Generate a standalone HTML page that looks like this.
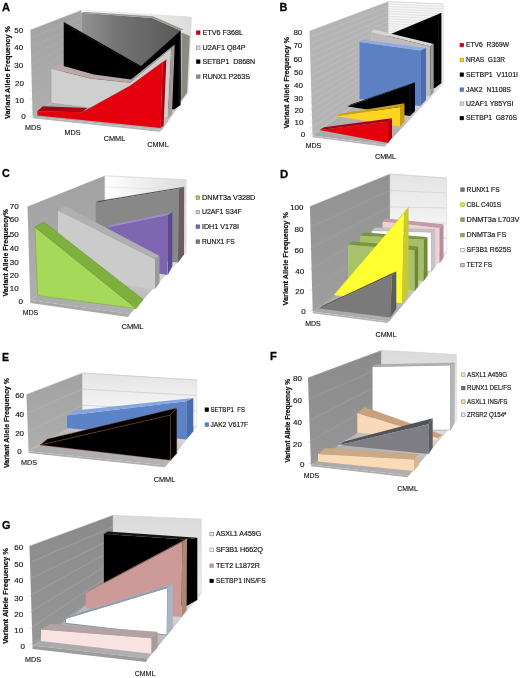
<!DOCTYPE html>
<html><head><meta charset="utf-8"><title>Figure</title>
<style>
html,body{margin:0;padding:0;background:#fff;}
body{width:520px;height:678px;overflow:hidden;font-family:"Liberation Sans",sans-serif;}
svg{display:block;font-family:"Liberation Sans",sans-serif;}
</style></head><body>
<svg width="520" height="678" viewBox="0 0 520 678">
<defs>
<linearGradient id="bw" x1="0" y1="0" x2="1" y2="0"><stop offset="0" stop-color="#ffffff"/><stop offset="1" stop-color="#dcdcdc"/></linearGradient>
<linearGradient id="bw2" x1="0" y1="0" x2="0" y2="1"><stop offset="0" stop-color="#e4e4e4"/><stop offset="1" stop-color="#fdfdfd"/></linearGradient>
<linearGradient id="bw3" x1="0" y1="0" x2="0" y2="1"><stop offset="0" stop-color="#dadada"/><stop offset="1" stop-color="#eeeeee"/></linearGradient>
<linearGradient id="rg" x1="0" y1="0" x2="1" y2="0"><stop offset="0" stop-color="#939393"/><stop offset="0.35" stop-color="#747474"/><stop offset="1" stop-color="#585858"/></linearGradient>
<linearGradient id="lwf" x1="0" y1="0" x2="0" y2="1"><stop offset="0" stop-color="#8b8b8b"/><stop offset="1" stop-color="#969696"/></linearGradient>
<linearGradient id="lw" x1="0" y1="0" x2="0" y2="1"><stop offset="0" stop-color="#a2a2a2"/><stop offset="1" stop-color="#aeaeae"/></linearGradient>
<linearGradient id="fl" x1="0" y1="1" x2="1" y2="0"><stop offset="0" stop-color="#a6a6a6"/><stop offset="0.42" stop-color="#b2b2b2"/><stop offset="0.7" stop-color="#d2d2d2"/><stop offset="1" stop-color="#e4e4e4"/></linearGradient>
<linearGradient id="lwd" x1="0" y1="0" x2="0" y2="1"><stop offset="0" stop-color="#929292"/><stop offset="1" stop-color="#9e9e9e"/></linearGradient>
<filter id="soft" x="-2%" y="-2%" width="104%" height="104%"><feGaussianBlur stdDeviation="0.35"/></filter>
</defs>
<rect width="520" height="678" fill="#fff"/>
<g filter="url(#soft)">
<text x="2.10" y="10.75" font-size="11.8" font-weight="bold" text-anchor="start" fill="#000" textLength="8" lengthAdjust="spacingAndGlyphs" stroke="#000" stroke-width="0.3">A</text>
<text transform="translate(10.16,72.50) rotate(-90)" font-size="7.4" font-weight="bold" text-anchor="middle" fill="#111" stroke="#111" stroke-width="0.22" textLength="93.0" lengthAdjust="spacingAndGlyphs">Variant Allele Frequency %</text>
<text x="23.20" y="33.38" font-size="8.0" font-weight="normal" text-anchor="end" fill="#111" stroke="#222" stroke-width="0.15">50</text>
<text x="23.20" y="50.38" font-size="8.0" font-weight="normal" text-anchor="end" fill="#111" stroke="#222" stroke-width="0.15">40</text>
<text x="23.20" y="68.38" font-size="8.0" font-weight="normal" text-anchor="end" fill="#111" stroke="#222" stroke-width="0.15">30</text>
<text x="24.00" y="85.88" font-size="8.0" font-weight="normal" text-anchor="end" fill="#111" stroke="#222" stroke-width="0.15">20</text>
<text x="24.00" y="102.88" font-size="8.0" font-weight="normal" text-anchor="end" fill="#111" stroke="#222" stroke-width="0.15">10</text>
<text x="25.80" y="119.38" font-size="8.0" font-weight="normal" text-anchor="end" fill="#111" stroke="#222" stroke-width="0.15">0</text>
<polygon points="30.40,30.00 81.50,10.20 82.50,79.00 32.60,116.50" fill="url(#lw)"/>
<line x1="30.40" y1="30.00" x2="81.50" y2="10.20" stroke="#b4b4b4" stroke-width="0.45"/>
<line x1="30.40" y1="38.65" x2="81.50" y2="17.08" stroke="#b4b4b4" stroke-width="0.45"/>
<line x1="30.40" y1="47.30" x2="81.50" y2="23.96" stroke="#b4b4b4" stroke-width="0.45"/>
<line x1="30.40" y1="55.95" x2="81.50" y2="30.84" stroke="#b4b4b4" stroke-width="0.45"/>
<line x1="30.40" y1="64.60" x2="81.50" y2="37.72" stroke="#b4b4b4" stroke-width="0.45"/>
<line x1="30.40" y1="73.25" x2="81.50" y2="44.60" stroke="#b4b4b4" stroke-width="0.45"/>
<line x1="30.40" y1="81.90" x2="81.50" y2="51.48" stroke="#b4b4b4" stroke-width="0.45"/>
<line x1="30.40" y1="90.55" x2="81.50" y2="58.36" stroke="#b4b4b4" stroke-width="0.45"/>
<line x1="30.40" y1="99.20" x2="81.50" y2="65.24" stroke="#b4b4b4" stroke-width="0.45"/>
<line x1="30.40" y1="107.85" x2="81.50" y2="72.12" stroke="#b4b4b4" stroke-width="0.45"/>
<line x1="30.40" y1="116.50" x2="81.50" y2="79.00" stroke="#b4b4b4" stroke-width="0.45"/>
<polygon points="81.50,10.20 191.50,17.00 188.00,93.00 82.50,79.00" fill="url(#bw)" stroke="#cfcfcf" stroke-width="0.4" stroke-linejoin="round"/>
<polygon points="32.60,116.50 82.50,79.00 188.00,93.00 162.00,130.00" fill="url(#fl)"/>
<polygon points="32.60,116.50 162.00,130.00 159.00,131.80 32.60,118.30" fill="#b4b4b4"/>
<polygon points="81.30,12.80 152.00,18.00 180.50,30.50 181.50,100.00 81.30,80.00" fill="url(#rg)"/>
<polygon points="81.30,12.80 84.50,11.80 153.00,16.30 183.50,29.50 180.50,30.50 152.00,18.00" fill="#9a9c92"/>
<polygon points="181.50,32.50 189.80,36.00 187.00,93.00 181.50,100.00" fill="#8a8c82"/>
<polygon points="63.75,22.00 141.00,66.00 178.00,33.00 180.60,30.80 180.60,105.00 174.00,109.50 63.75,100.00" fill="#000"/>
<line x1="64.50" y1="23.50" x2="101.00" y2="45.00" stroke="#2c2c34" stroke-width="0.5"/>
<line x1="101.00" y1="45.00" x2="139.00" y2="66.00" stroke="#24242c" stroke-width="0.5"/>
<line x1="179.20" y1="34.00" x2="179.00" y2="104.00" stroke="#1c2440" stroke-width="0.5"/>
<polygon points="51.00,68.50 91.00,78.50 130.00,82.50 171.40,48.00 168.00,118.00 51.00,103.00" fill="#cfcfcf" stroke="#a58c8c" stroke-width="0.45" stroke-linejoin="round"/>
<polygon points="51.00,68.50 58.00,64.50 94.00,74.50 131.00,79.50 174.70,44.50 171.40,48.00 130.00,82.50 91.00,78.50" fill="#b9a9a9"/>
<polygon points="171.40,48.00 174.70,44.50 172.00,114.00 168.00,118.00" fill="#a99a9a"/>
<polygon points="37.20,111.30 82.50,112.30 130.00,86.00 162.60,62.20 160.60,128.00 37.50,115.50" fill="#e4000f"/>
<polygon points="37.20,111.30 43.00,106.30 87.00,108.00 82.50,112.30" fill="#a80012"/>
<polygon points="162.60,62.20 166.40,59.40 163.60,125.50 160.60,128.00" fill="#b2000f"/>
<line x1="82.50" y1="112.30" x2="130.00" y2="86.00" stroke="#b8000f" stroke-width="0.5"/>
<line x1="130.00" y1="86.00" x2="162.60" y2="62.20" stroke="#b8000f" stroke-width="0.5"/>
<text x="33.00" y="129.74" font-size="7.6" font-weight="normal" text-anchor="middle" fill="#111" textLength="16" lengthAdjust="spacingAndGlyphs" stroke="#222" stroke-width="0.15">MDS</text>
<text x="72.50" y="135.24" font-size="7.6" font-weight="normal" text-anchor="middle" fill="#111" textLength="16" lengthAdjust="spacingAndGlyphs" stroke="#222" stroke-width="0.15">MDS</text>
<text x="114.50" y="140.74" font-size="7.6" font-weight="normal" text-anchor="middle" fill="#111" textLength="21.5" lengthAdjust="spacingAndGlyphs" stroke="#222" stroke-width="0.15">CMML</text>
<text x="158.00" y="147.24" font-size="7.6" font-weight="normal" text-anchor="middle" fill="#111" textLength="21.5" lengthAdjust="spacingAndGlyphs" stroke="#222" stroke-width="0.15">CMML</text>
<rect x="196.60" y="30.90" width="3.4000000000000004" height="3.4000000000000004" fill="#d4001a" stroke="#a00018" stroke-width="0.7"/>
<text x="202.50" y="34.75" font-size="6.8" font-weight="normal" text-anchor="start" fill="#111" textLength="40.5" lengthAdjust="spacingAndGlyphs" stroke="#222" stroke-width="0.18">ETV6 F368L</text>
<rect x="196.60" y="45.90" width="3.4000000000000004" height="3.4000000000000004" fill="#e2e2e2" stroke="#b08a8a" stroke-width="0.7"/>
<text x="202.50" y="49.75" font-size="6.8" font-weight="normal" text-anchor="start" fill="#111" textLength="43" lengthAdjust="spacingAndGlyphs" stroke="#222" stroke-width="0.18">U2AF1 Q84P</text>
<rect x="196.60" y="59.90" width="3.4000000000000004" height="3.4000000000000004" fill="#000" stroke="#000" stroke-width="0.7"/>
<text x="202.50" y="63.75" font-size="6.8" font-weight="normal" text-anchor="start" fill="#111" textLength="52.5" lengthAdjust="spacingAndGlyphs" stroke="#222" stroke-width="0.18">SETBP1 &#160;D868N</text>
<rect x="196.60" y="74.90" width="3.4000000000000004" height="3.4000000000000004" fill="#8a8c80" stroke="#7a7c70" stroke-width="0.7"/>
<text x="202.50" y="78.75" font-size="6.8" font-weight="normal" text-anchor="start" fill="#111" textLength="47.5" lengthAdjust="spacingAndGlyphs" stroke="#222" stroke-width="0.18">RUNX1 P263S</text>
<text x="279.60" y="10.75" font-size="11.8" font-weight="bold" text-anchor="start" fill="#000" textLength="7.8" lengthAdjust="spacingAndGlyphs" stroke="#000" stroke-width="0.3">B</text>
<text transform="translate(288.66,82.75) rotate(-90)" font-size="7.4" font-weight="bold" text-anchor="middle" fill="#111" stroke="#111" stroke-width="0.22" textLength="91.5" lengthAdjust="spacingAndGlyphs">Variant Allele Frequency %</text>
<text x="302.30" y="35.28" font-size="8.0" font-weight="normal" text-anchor="end" fill="#111" stroke="#222" stroke-width="0.15">80</text>
<text x="302.30" y="48.38" font-size="8.0" font-weight="normal" text-anchor="end" fill="#111" stroke="#222" stroke-width="0.15">70</text>
<text x="302.30" y="61.88" font-size="8.0" font-weight="normal" text-anchor="end" fill="#111" stroke="#222" stroke-width="0.15">60</text>
<text x="302.90" y="75.38" font-size="8.0" font-weight="normal" text-anchor="end" fill="#111" stroke="#222" stroke-width="0.15">50</text>
<text x="302.90" y="87.88" font-size="8.0" font-weight="normal" text-anchor="end" fill="#111" stroke="#222" stroke-width="0.15">40</text>
<text x="302.90" y="100.88" font-size="8.0" font-weight="normal" text-anchor="end" fill="#111" stroke="#222" stroke-width="0.15">30</text>
<text x="303.50" y="112.88" font-size="8.0" font-weight="normal" text-anchor="end" fill="#111" stroke="#222" stroke-width="0.15">20</text>
<text x="303.50" y="125.18" font-size="8.0" font-weight="normal" text-anchor="end" fill="#111" stroke="#222" stroke-width="0.15">10</text>
<text x="305.20" y="137.38" font-size="8.0" font-weight="normal" text-anchor="end" fill="#111" stroke="#222" stroke-width="0.15">0</text>
<polygon points="309.50,31.00 388.50,1.50 388.50,80.50 312.50,135.50" fill="#b4b4b4"/>
<line x1="309.50" y1="31.00" x2="388.50" y2="1.50" stroke="#c6c6c6" stroke-width="0.45"/>
<line x1="309.50" y1="37.53" x2="388.50" y2="6.44" stroke="#c6c6c6" stroke-width="0.45"/>
<line x1="309.50" y1="44.06" x2="388.50" y2="11.38" stroke="#c6c6c6" stroke-width="0.45"/>
<line x1="309.50" y1="50.59" x2="388.50" y2="16.31" stroke="#c6c6c6" stroke-width="0.45"/>
<line x1="309.50" y1="57.12" x2="388.50" y2="21.25" stroke="#c6c6c6" stroke-width="0.45"/>
<line x1="309.50" y1="63.66" x2="388.50" y2="26.19" stroke="#c6c6c6" stroke-width="0.45"/>
<line x1="309.50" y1="70.19" x2="388.50" y2="31.12" stroke="#c6c6c6" stroke-width="0.45"/>
<line x1="309.50" y1="76.72" x2="388.50" y2="36.06" stroke="#c6c6c6" stroke-width="0.45"/>
<line x1="309.50" y1="83.25" x2="388.50" y2="41.00" stroke="#c6c6c6" stroke-width="0.45"/>
<line x1="309.50" y1="89.78" x2="388.50" y2="45.94" stroke="#c6c6c6" stroke-width="0.45"/>
<line x1="309.50" y1="96.31" x2="388.50" y2="50.88" stroke="#c6c6c6" stroke-width="0.45"/>
<line x1="309.50" y1="102.84" x2="388.50" y2="55.81" stroke="#c6c6c6" stroke-width="0.45"/>
<line x1="309.50" y1="109.38" x2="388.50" y2="60.75" stroke="#c6c6c6" stroke-width="0.45"/>
<line x1="309.50" y1="115.91" x2="388.50" y2="65.69" stroke="#c6c6c6" stroke-width="0.45"/>
<line x1="309.50" y1="122.44" x2="388.50" y2="70.62" stroke="#c6c6c6" stroke-width="0.45"/>
<line x1="309.50" y1="128.97" x2="388.50" y2="75.56" stroke="#c6c6c6" stroke-width="0.45"/>
<line x1="309.50" y1="135.50" x2="388.50" y2="80.50" stroke="#c6c6c6" stroke-width="0.45"/>
<polygon points="388.50,1.50 443.30,4.00 443.30,84.00 388.50,80.50" fill="#f4f4f4" stroke="#d0d0d0" stroke-width="0.4" stroke-linejoin="round"/>
<line x1="388.50" y1="1.50" x2="443.30" y2="4.00" stroke="#cdcdcd" stroke-width="0.45"/>
<line x1="388.50" y1="3.97" x2="443.30" y2="6.50" stroke="#cdcdcd" stroke-width="0.45"/>
<line x1="388.50" y1="6.44" x2="443.30" y2="9.00" stroke="#cdcdcd" stroke-width="0.45"/>
<line x1="388.50" y1="8.91" x2="443.30" y2="11.50" stroke="#cdcdcd" stroke-width="0.45"/>
<line x1="388.50" y1="11.38" x2="443.30" y2="14.00" stroke="#cdcdcd" stroke-width="0.45"/>
<line x1="388.50" y1="13.84" x2="443.30" y2="16.50" stroke="#cdcdcd" stroke-width="0.45"/>
<line x1="388.50" y1="16.31" x2="443.30" y2="19.00" stroke="#cdcdcd" stroke-width="0.45"/>
<line x1="388.50" y1="18.78" x2="443.30" y2="21.50" stroke="#cdcdcd" stroke-width="0.45"/>
<line x1="388.50" y1="21.25" x2="443.30" y2="24.00" stroke="#cdcdcd" stroke-width="0.45"/>
<line x1="388.50" y1="23.72" x2="443.30" y2="26.50" stroke="#cdcdcd" stroke-width="0.45"/>
<line x1="388.50" y1="26.19" x2="443.30" y2="29.00" stroke="#cdcdcd" stroke-width="0.45"/>
<line x1="388.50" y1="28.66" x2="443.30" y2="31.50" stroke="#cdcdcd" stroke-width="0.45"/>
<line x1="388.50" y1="31.12" x2="443.30" y2="34.00" stroke="#cdcdcd" stroke-width="0.45"/>
<line x1="388.50" y1="33.59" x2="443.30" y2="36.50" stroke="#cdcdcd" stroke-width="0.45"/>
<line x1="388.50" y1="36.06" x2="443.30" y2="39.00" stroke="#cdcdcd" stroke-width="0.45"/>
<line x1="388.50" y1="38.53" x2="443.30" y2="41.50" stroke="#cdcdcd" stroke-width="0.45"/>
<line x1="388.50" y1="41.00" x2="443.30" y2="44.00" stroke="#cdcdcd" stroke-width="0.45"/>
<line x1="388.50" y1="43.47" x2="443.30" y2="46.50" stroke="#cdcdcd" stroke-width="0.45"/>
<line x1="388.50" y1="45.94" x2="443.30" y2="49.00" stroke="#cdcdcd" stroke-width="0.45"/>
<line x1="388.50" y1="48.41" x2="443.30" y2="51.50" stroke="#cdcdcd" stroke-width="0.45"/>
<line x1="388.50" y1="50.88" x2="443.30" y2="54.00" stroke="#cdcdcd" stroke-width="0.45"/>
<line x1="388.50" y1="53.34" x2="443.30" y2="56.50" stroke="#cdcdcd" stroke-width="0.45"/>
<line x1="388.50" y1="55.81" x2="443.30" y2="59.00" stroke="#cdcdcd" stroke-width="0.45"/>
<line x1="388.50" y1="58.28" x2="443.30" y2="61.50" stroke="#cdcdcd" stroke-width="0.45"/>
<line x1="388.50" y1="60.75" x2="443.30" y2="64.00" stroke="#cdcdcd" stroke-width="0.45"/>
<line x1="388.50" y1="63.22" x2="443.30" y2="66.50" stroke="#cdcdcd" stroke-width="0.45"/>
<line x1="388.50" y1="65.69" x2="443.30" y2="69.00" stroke="#cdcdcd" stroke-width="0.45"/>
<line x1="388.50" y1="68.16" x2="443.30" y2="71.50" stroke="#cdcdcd" stroke-width="0.45"/>
<line x1="388.50" y1="70.62" x2="443.30" y2="74.00" stroke="#cdcdcd" stroke-width="0.45"/>
<line x1="388.50" y1="73.09" x2="443.30" y2="76.50" stroke="#cdcdcd" stroke-width="0.45"/>
<line x1="388.50" y1="75.56" x2="443.30" y2="79.00" stroke="#cdcdcd" stroke-width="0.45"/>
<line x1="388.50" y1="78.03" x2="443.30" y2="81.50" stroke="#cdcdcd" stroke-width="0.45"/>
<line x1="388.50" y1="80.50" x2="443.30" y2="84.00" stroke="#cdcdcd" stroke-width="0.45"/>
<polygon points="312.50,135.50 388.50,80.50 443.30,84.00 386.00,145.00" fill="url(#fl)"/>
<polygon points="312.50,135.50 386.00,145.00 384.50,146.80 312.50,137.30" fill="#b8b8b8"/>
<polygon points="380.00,38.50 438.00,14.30 441.40,12.80 441.40,83.00 435.00,88.00 380.00,100.00" fill="#000"/>
<line x1="438.60" y1="16.00" x2="438.40" y2="85.00" stroke="#1e1e26" stroke-width="0.5"/>
<polygon points="371.00,32.00 430.40,46.30 430.40,96.00 371.00,100.00" fill="#bcbcbc"/>
<polygon points="371.00,32.00 374.00,29.60 433.70,44.00 430.40,46.30" fill="#d6d6d6"/>
<polygon points="430.40,46.30 433.70,44.00 433.70,92.00 430.40,96.00" fill="#9a9a9a"/>
<polygon points="359.50,42.00 420.40,50.50 420.40,106.00 359.50,99.00" fill="#5b80c2"/>
<polygon points="359.50,42.00 363.00,39.80 426.00,48.00 420.40,50.50" fill="#8fabdf"/>
<polygon points="420.40,50.50 426.00,48.00 426.00,100.00 420.40,106.00" fill="#4a6db0"/>
<polygon points="347.50,106.50 410.00,84.50 410.00,116.00" fill="#000"/>
<polygon points="347.50,106.50 351.00,104.30 415.00,82.30 410.00,84.50" fill="#1c1c22"/>
<polygon points="410.00,84.50 415.00,82.30 415.00,111.00 410.00,116.00" fill="#06060c"/>
<line x1="410.00" y1="85.00" x2="410.00" y2="115.50" stroke="#26263a" stroke-width="0.4"/>
<polygon points="336.00,116.30 400.00,107.00 400.00,126.50" fill="#ffd422"/>
<polygon points="336.00,116.30 340.00,113.80 404.50,103.30 400.00,107.00" fill="#c8a218"/>
<polygon points="400.00,107.00 404.50,103.30 404.50,121.50 400.00,126.50" fill="#c89c10"/>
<polygon points="319.50,130.00 388.00,121.70 388.00,143.00" fill="#e4000f"/>
<polygon points="319.50,130.00 324.00,127.30 392.00,118.20 388.00,121.70" fill="#a80012"/>
<polygon points="388.00,121.70 392.00,118.20 392.00,137.50 388.00,143.00" fill="#b0000f"/>
<text x="313.50" y="148.24" font-size="7.6" font-weight="normal" text-anchor="middle" fill="#111" textLength="15.5" lengthAdjust="spacingAndGlyphs" stroke="#222" stroke-width="0.15">MDS</text>
<text x="385.50" y="158.74" font-size="7.6" font-weight="normal" text-anchor="middle" fill="#111" textLength="21" lengthAdjust="spacingAndGlyphs" stroke="#222" stroke-width="0.15">CMML</text>
<rect x="460.10" y="43.40" width="3.4000000000000004" height="3.4000000000000004" fill="#d4001a" stroke="#a00018" stroke-width="0.7"/>
<text x="466.00" y="47.25" font-size="6.8" font-weight="normal" text-anchor="start" fill="#111" textLength="43" lengthAdjust="spacingAndGlyphs" stroke="#222" stroke-width="0.18">ETV6 &#160;R369W</text>
<rect x="460.10" y="58.40" width="3.4000000000000004" height="3.4000000000000004" fill="#ffd422" stroke="#b89010" stroke-width="0.7"/>
<text x="466.00" y="62.25" font-size="6.8" font-weight="normal" text-anchor="start" fill="#111" textLength="39" lengthAdjust="spacingAndGlyphs" stroke="#222" stroke-width="0.18">NRAS &#160;G13R</text>
<rect x="460.10" y="72.90" width="3.4000000000000004" height="3.4000000000000004" fill="#000" stroke="#000" stroke-width="0.7"/>
<text x="466.00" y="76.75" font-size="6.8" font-weight="normal" text-anchor="start" fill="#111" textLength="52" lengthAdjust="spacingAndGlyphs" stroke="#222" stroke-width="0.18">SETBP1 &#160;V1101I</text>
<rect x="460.10" y="87.90" width="3.4000000000000004" height="3.4000000000000004" fill="#5b80c2" stroke="#46659f" stroke-width="0.7"/>
<text x="466.00" y="91.75" font-size="6.8" font-weight="normal" text-anchor="start" fill="#111" textLength="45" lengthAdjust="spacingAndGlyphs" stroke="#222" stroke-width="0.18">JAK2 &#160;N1108S</text>
<rect x="460.10" y="101.90" width="3.4000000000000004" height="3.4000000000000004" fill="#d8d8d8" stroke="#a89898" stroke-width="0.7"/>
<text x="466.00" y="105.75" font-size="6.8" font-weight="normal" text-anchor="start" fill="#111" textLength="47.5" lengthAdjust="spacingAndGlyphs" stroke="#222" stroke-width="0.18">U2AF1 Y85YSI</text>
<rect x="460.10" y="116.40" width="3.4000000000000004" height="3.4000000000000004" fill="#000" stroke="#000" stroke-width="0.7"/>
<text x="466.00" y="120.25" font-size="6.8" font-weight="normal" text-anchor="start" fill="#111" textLength="51" lengthAdjust="spacingAndGlyphs" stroke="#222" stroke-width="0.18">SETBP1 &#160;G870S</text>
<text x="2.10" y="177.25" font-size="11.8" font-weight="bold" text-anchor="start" fill="#000" textLength="7.8" lengthAdjust="spacingAndGlyphs" stroke="#000" stroke-width="0.3">C</text>
<text transform="translate(7.66,252.75) rotate(-90)" font-size="7.4" font-weight="bold" text-anchor="middle" fill="#111" stroke="#111" stroke-width="0.22" textLength="87.5" lengthAdjust="spacingAndGlyphs">Variant Allele Frequency%</text>
<text x="18.70" y="209.28" font-size="8.0" font-weight="normal" text-anchor="end" fill="#111" stroke="#222" stroke-width="0.15">70</text>
<text x="18.70" y="222.38" font-size="8.0" font-weight="normal" text-anchor="end" fill="#111" stroke="#222" stroke-width="0.15">60</text>
<text x="18.70" y="236.58" font-size="8.0" font-weight="normal" text-anchor="end" fill="#111" stroke="#222" stroke-width="0.15">50</text>
<text x="18.70" y="250.88" font-size="8.0" font-weight="normal" text-anchor="end" fill="#111" stroke="#222" stroke-width="0.15">40</text>
<text x="18.70" y="264.68" font-size="8.0" font-weight="normal" text-anchor="end" fill="#111" stroke="#222" stroke-width="0.15">30</text>
<text x="18.70" y="278.18" font-size="8.0" font-weight="normal" text-anchor="end" fill="#111" stroke="#222" stroke-width="0.15">20</text>
<text x="18.70" y="291.08" font-size="8.0" font-weight="normal" text-anchor="end" fill="#111" stroke="#222" stroke-width="0.15">10</text>
<text x="23.00" y="304.48" font-size="8.0" font-weight="normal" text-anchor="end" fill="#111" stroke="#222" stroke-width="0.15">0</text>
<polygon points="27.50,206.50 104.90,175.80 104.90,254.00 30.20,300.00" fill="url(#lw)"/>
<polygon points="104.90,175.80 186.20,179.70 186.20,253.00 104.90,254.00" fill="url(#bw)" stroke="#cfcfcf" stroke-width="0.4" stroke-linejoin="round"/>
<line x1="104.90" y1="175.80" x2="186.20" y2="179.70" stroke="#d4d4d4" stroke-width="0.4"/>
<line x1="104.90" y1="186.97" x2="186.20" y2="190.17" stroke="#d4d4d4" stroke-width="0.4"/>
<line x1="104.90" y1="198.14" x2="186.20" y2="200.64" stroke="#d4d4d4" stroke-width="0.4"/>
<line x1="104.90" y1="209.31" x2="186.20" y2="211.11" stroke="#d4d4d4" stroke-width="0.4"/>
<line x1="104.90" y1="220.49" x2="186.20" y2="221.59" stroke="#d4d4d4" stroke-width="0.4"/>
<line x1="104.90" y1="231.66" x2="186.20" y2="232.06" stroke="#d4d4d4" stroke-width="0.4"/>
<line x1="104.90" y1="242.83" x2="186.20" y2="242.53" stroke="#d4d4d4" stroke-width="0.4"/>
<line x1="104.90" y1="254.00" x2="186.20" y2="253.00" stroke="#d4d4d4" stroke-width="0.4"/>
<polygon points="30.20,300.00 104.90,254.00 186.20,253.00 130.00,314.00" fill="url(#fl)"/>
<polygon points="30.20,300.00 130.00,314.00 128.00,317.00 30.20,303.00" fill="#a8a8a8"/>
<polygon points="95.70,202.80 178.50,188.70 178.00,262.60 95.70,256.00" fill="#888888"/>
<polygon points="95.70,202.80 98.00,201.00 184.20,186.80 178.50,188.70" fill="#5f5356"/>
<polygon points="178.50,188.70 184.20,186.80 184.00,254.50 178.00,262.60" fill="#6a5c5f"/>
<polygon points="107.50,227.50 167.50,215.00 167.50,275.00 107.50,265.00" fill="#7f66b3"/>
<polygon points="107.50,227.50 111.00,225.00 172.30,212.30 167.80,215.00" fill="#9d8bcb"/>
<polygon points="167.80,215.00 172.30,212.30 172.30,266.00 167.80,275.00" fill="#5b4691"/>
<polygon points="58.00,210.50 155.00,259.00 155.00,289.00 58.00,275.00" fill="#cbcbcb"/>
<polygon points="58.00,210.50 65.00,206.00 159.50,256.00 155.00,259.00" fill="#b0b0b0"/>
<polygon points="155.00,259.00 159.50,256.00 159.50,283.00 155.00,289.00" fill="#9a9a9a"/>
<polygon points="35.00,227.00 136.20,308.50 37.70,295.50" fill="#a6d95a" stroke="#6a9a30" stroke-width="0.4" stroke-linejoin="round"/>
<polygon points="35.00,227.00 44.00,222.00 143.20,299.60 136.20,308.50" fill="#7fb03c" stroke="#5f8a28" stroke-width="0.4" stroke-linejoin="round"/>
<text x="30.50" y="314.74" font-size="7.6" font-weight="normal" text-anchor="middle" fill="#111" textLength="15.5" lengthAdjust="spacingAndGlyphs" stroke="#222" stroke-width="0.15">MDS</text>
<text x="132.50" y="328.74" font-size="7.6" font-weight="normal" text-anchor="middle" fill="#111" textLength="22" lengthAdjust="spacingAndGlyphs" stroke="#222" stroke-width="0.15">CMML</text>
<rect x="196.10" y="195.90" width="3.4000000000000004" height="3.4000000000000004" fill="#a6d95a" stroke="#6a9a30" stroke-width="0.7"/>
<text x="201.90" y="199.75" font-size="6.8" font-weight="normal" text-anchor="start" fill="#111" textLength="53.4" lengthAdjust="spacingAndGlyphs" stroke="#222" stroke-width="0.18">DNMT3a V328D</text>
<rect x="196.10" y="210.40" width="3.4000000000000004" height="3.4000000000000004" fill="#cbcbcb" stroke="#999" stroke-width="0.7"/>
<text x="201.90" y="214.25" font-size="6.8" font-weight="normal" text-anchor="start" fill="#111" textLength="40" lengthAdjust="spacingAndGlyphs" stroke="#222" stroke-width="0.18">U2AF1 S34F</text>
<rect x="196.10" y="224.90" width="3.4000000000000004" height="3.4000000000000004" fill="#7f66b3" stroke="#5b4691" stroke-width="0.7"/>
<text x="201.90" y="228.75" font-size="6.8" font-weight="normal" text-anchor="start" fill="#111" textLength="37" lengthAdjust="spacingAndGlyphs" stroke="#222" stroke-width="0.18">IDH1 V178I</text>
<rect x="196.10" y="239.90" width="3.4000000000000004" height="3.4000000000000004" fill="#8a7a7a" stroke="#5e5052" stroke-width="0.7"/>
<text x="201.90" y="243.75" font-size="6.8" font-weight="normal" text-anchor="start" fill="#111" textLength="32.7" lengthAdjust="spacingAndGlyphs" stroke="#222" stroke-width="0.18">RUNX1 FS</text>
<text x="280.10" y="177.75" font-size="11.8" font-weight="bold" text-anchor="start" fill="#000" textLength="8.2" lengthAdjust="spacingAndGlyphs" stroke="#000" stroke-width="0.3">D</text>
<text transform="translate(288.26,258.75) rotate(-90)" font-size="7.4" font-weight="bold" text-anchor="middle" fill="#111" stroke="#111" stroke-width="0.22" textLength="93.5" lengthAdjust="spacingAndGlyphs">Variant Allele Frequency %</text>
<text x="303.50" y="209.88" font-size="8.0" font-weight="normal" text-anchor="end" fill="#111" stroke="#222" stroke-width="0.15">100</text>
<text x="303.50" y="231.88" font-size="8.0" font-weight="normal" text-anchor="end" fill="#111" stroke="#222" stroke-width="0.15">80</text>
<text x="303.50" y="252.88" font-size="8.0" font-weight="normal" text-anchor="end" fill="#111" stroke="#222" stroke-width="0.15">60</text>
<text x="304.20" y="273.58" font-size="8.0" font-weight="normal" text-anchor="end" fill="#111" stroke="#222" stroke-width="0.15">40</text>
<text x="304.20" y="294.48" font-size="8.0" font-weight="normal" text-anchor="end" fill="#111" stroke="#222" stroke-width="0.15">20</text>
<text x="305.60" y="314.38" font-size="8.0" font-weight="normal" text-anchor="end" fill="#111" stroke="#222" stroke-width="0.15">0</text>
<polygon points="309.90,206.50 390.00,174.00 390.00,272.00 312.70,311.50" fill="url(#lwd)"/>
<line x1="309.90" y1="206.50" x2="390.00" y2="174.00" stroke="#a8a8a8" stroke-width="0.45"/>
<line x1="309.90" y1="227.50" x2="390.00" y2="190.40" stroke="#a8a8a8" stroke-width="0.45"/>
<line x1="309.90" y1="248.50" x2="390.00" y2="206.80" stroke="#a8a8a8" stroke-width="0.45"/>
<line x1="309.90" y1="269.50" x2="390.00" y2="223.20" stroke="#a8a8a8" stroke-width="0.45"/>
<line x1="309.90" y1="290.50" x2="390.00" y2="239.60" stroke="#a8a8a8" stroke-width="0.45"/>
<line x1="309.90" y1="311.50" x2="390.00" y2="256.00" stroke="#a8a8a8" stroke-width="0.45"/>
<polygon points="390.00,174.00 446.70,178.00 446.70,253.00 390.00,256.00" fill="url(#bw2)" stroke="#d0d0d0" stroke-width="0.4" stroke-linejoin="round"/>
<line x1="390.00" y1="174.00" x2="446.70" y2="178.00" stroke="#c4c4c4" stroke-width="0.5"/>
<line x1="390.00" y1="190.40" x2="446.70" y2="193.00" stroke="#c4c4c4" stroke-width="0.5"/>
<line x1="390.00" y1="206.80" x2="446.70" y2="208.00" stroke="#c4c4c4" stroke-width="0.5"/>
<line x1="390.00" y1="223.20" x2="446.70" y2="223.00" stroke="#c4c4c4" stroke-width="0.5"/>
<line x1="390.00" y1="239.60" x2="446.70" y2="238.00" stroke="#c4c4c4" stroke-width="0.5"/>
<line x1="390.00" y1="256.00" x2="446.70" y2="253.00" stroke="#c4c4c4" stroke-width="0.5"/>
<polygon points="312.70,311.50 390.00,256.00 446.70,253.00 389.00,321.50" fill="url(#fl)"/>
<polygon points="312.70,311.50 389.00,321.50 387.50,323.00 312.70,313.20" fill="#b4b4b4"/>
<polygon points="382.50,221.50 439.50,228.00 439.50,263.40 382.50,258.00" fill="#ecd2d6"/>
<polygon points="382.50,221.50 386.00,218.50 443.50,224.30 439.50,228.00" fill="#c49aa4"/>
<polygon points="439.50,228.00 443.50,224.30 443.50,258.00 439.50,263.40" fill="#b88c98"/>
<polygon points="371.75,230.50 431.50,232.20 431.50,271.40 371.75,264.00" fill="#ffffff" stroke="#a8a8a8" stroke-width="0.4" stroke-linejoin="round"/>
<polygon points="371.75,230.50 375.50,227.50 434.80,229.60 431.50,232.20" fill="#c4c4c4" stroke="#a8a8a8" stroke-width="0.3" stroke-linejoin="round"/>
<polygon points="431.50,232.20 434.80,229.60 434.80,267.40 431.50,271.40" fill="#c2c6ca" stroke="#a8a8a8" stroke-width="0.3" stroke-linejoin="round"/>
<polygon points="360.00,235.50 423.50,239.80 423.50,281.40 360.00,271.00" fill="#a6be68"/>
<polygon points="360.00,235.50 364.00,232.50 427.50,237.00 423.50,239.80" fill="#7c9440"/>
<polygon points="423.50,239.80 427.50,237.00 427.50,275.40 423.50,281.40" fill="#6e8838"/>
<polygon points="348.00,244.50 414.70,250.20 414.70,291.30 348.00,281.00" fill="#a8c26c"/>
<polygon points="348.00,244.50 352.00,241.50 418.20,246.60 414.70,250.20" fill="#7c9440"/>
<polygon points="414.70,250.20 418.20,246.60 418.20,286.00 414.70,291.30" fill="#6e8838"/>
<polygon points="333.75,295.00 404.00,213.60 402.00,303.20" fill="#ffff33"/>
<polygon points="333.75,295.00 337.00,292.50 408.60,206.50 404.00,213.60" fill="#dcdc24"/>
<polygon points="404.00,213.60 408.60,206.50 408.50,295.00 402.00,303.20" fill="#c9c932"/>
<polygon points="318.80,308.50 392.00,275.00 390.20,317.50" fill="#7a7a7a"/>
<polygon points="318.80,308.50 323.00,305.50 396.30,271.30 392.00,275.00" fill="#565656"/>
<polygon points="392.00,275.00 396.30,271.30 396.30,309.00 390.20,317.50" fill="#5c5c5c"/>
<text x="313.00" y="325.74" font-size="7.6" font-weight="normal" text-anchor="middle" fill="#111" textLength="15.5" lengthAdjust="spacingAndGlyphs" stroke="#222" stroke-width="0.15">MDS</text>
<text x="386.00" y="336.74" font-size="7.6" font-weight="normal" text-anchor="middle" fill="#111" textLength="21" lengthAdjust="spacingAndGlyphs" stroke="#222" stroke-width="0.15">CMML</text>
<rect x="460.80" y="187.90" width="3.4000000000000004" height="3.4000000000000004" fill="#86767a" stroke="#5e5052" stroke-width="0.7"/>
<text x="466.60" y="191.75" font-size="6.8" font-weight="normal" text-anchor="start" fill="#111" textLength="33" lengthAdjust="spacingAndGlyphs" stroke="#222" stroke-width="0.18">RUNX1 FS</text>
<rect x="460.80" y="202.90" width="3.4000000000000004" height="3.4000000000000004" fill="#e8f040" stroke="#8aa820" stroke-width="0.7"/>
<text x="466.60" y="206.75" font-size="6.8" font-weight="normal" text-anchor="start" fill="#111" textLength="34.6" lengthAdjust="spacingAndGlyphs" stroke="#222" stroke-width="0.18">CBL C401S</text>
<rect x="460.80" y="217.90" width="3.4000000000000004" height="3.4000000000000004" fill="#8cae5c" stroke="#56783a" stroke-width="0.7"/>
<text x="466.60" y="221.75" font-size="6.8" font-weight="normal" text-anchor="start" fill="#111" textLength="52.8" lengthAdjust="spacingAndGlyphs" stroke="#222" stroke-width="0.18">DNMT3a L703V</text>
<rect x="460.80" y="233.40" width="3.4000000000000004" height="3.4000000000000004" fill="#9eb254" stroke="#6a7e30" stroke-width="0.7"/>
<text x="466.60" y="237.25" font-size="6.8" font-weight="normal" text-anchor="start" fill="#111" textLength="39.6" lengthAdjust="spacingAndGlyphs" stroke="#222" stroke-width="0.18">DNMT3a FS</text>
<rect x="460.80" y="248.40" width="3.4000000000000004" height="3.4000000000000004" fill="#ffffff" stroke="#909090" stroke-width="0.7"/>
<text x="466.60" y="252.25" font-size="6.8" font-weight="normal" text-anchor="start" fill="#111" textLength="44.6" lengthAdjust="spacingAndGlyphs" stroke="#222" stroke-width="0.18">SF3B1 R625S</text>
<rect x="460.80" y="263.40" width="3.4000000000000004" height="3.4000000000000004" fill="#e6c4cc" stroke="#8c6470" stroke-width="0.7"/>
<text x="466.60" y="267.25" font-size="6.8" font-weight="normal" text-anchor="start" fill="#111" textLength="25.4" lengthAdjust="spacingAndGlyphs" stroke="#222" stroke-width="0.18">TET2 FS</text>
<text x="2.10" y="360.75" font-size="11.8" font-weight="bold" text-anchor="start" fill="#000" textLength="7.0" lengthAdjust="spacingAndGlyphs" stroke="#000" stroke-width="0.3">E</text>
<text transform="translate(8.66,423.00) rotate(-90)" font-size="7.4" font-weight="bold" text-anchor="middle" fill="#111" stroke="#111" stroke-width="0.22" textLength="90.0" lengthAdjust="spacingAndGlyphs">Variant Allele Frequency %</text>
<text x="19.60" y="398.48" font-size="8.0" font-weight="normal" text-anchor="middle" fill="#111" stroke="#222" stroke-width="0.15">60</text>
<text x="19.60" y="417.48" font-size="8.0" font-weight="normal" text-anchor="middle" fill="#111" stroke="#222" stroke-width="0.15">40</text>
<text x="19.60" y="436.38" font-size="8.0" font-weight="normal" text-anchor="middle" fill="#111" stroke="#222" stroke-width="0.15">20</text>
<text x="19.60" y="454.28" font-size="8.0" font-weight="normal" text-anchor="middle" fill="#111" stroke="#222" stroke-width="0.15">0</text>
<polygon points="26.40,394.60 82.50,373.00 82.50,421.30 28.60,451.20" fill="url(#lw)"/>
<line x1="26.40" y1="394.60" x2="82.50" y2="373.00" stroke="#bcbcbc" stroke-width="0.45"/>
<line x1="26.40" y1="413.47" x2="82.50" y2="389.10" stroke="#bcbcbc" stroke-width="0.45"/>
<line x1="26.40" y1="432.33" x2="82.50" y2="405.20" stroke="#bcbcbc" stroke-width="0.45"/>
<line x1="26.40" y1="451.20" x2="82.50" y2="421.30" stroke="#bcbcbc" stroke-width="0.45"/>
<polygon points="82.50,373.00 196.80,380.00 196.80,426.50 82.50,421.30" fill="url(#bw2)" stroke="#cfcfcf" stroke-width="0.4" stroke-linejoin="round"/>
<line x1="82.50" y1="373.00" x2="196.80" y2="380.00" stroke="#bdbdbd" stroke-width="0.5"/>
<line x1="82.50" y1="389.10" x2="196.80" y2="395.50" stroke="#bdbdbd" stroke-width="0.5"/>
<line x1="82.50" y1="405.20" x2="196.80" y2="411.00" stroke="#bdbdbd" stroke-width="0.5"/>
<line x1="82.50" y1="421.30" x2="196.80" y2="426.50" stroke="#bdbdbd" stroke-width="0.5"/>
<polygon points="28.60,451.20 82.50,421.30 196.80,426.50 166.50,465.50" fill="url(#fl)"/>
<polygon points="28.60,451.20 166.50,465.50 164.50,467.30 28.60,453.00" fill="#b0b0b0"/>
<polygon points="67.00,415.50 186.25,401.25 186.25,439.50 67.00,428.00" fill="#5b82c8"/>
<polygon points="67.00,415.50 75.00,410.50 193.30,398.00 186.25,401.25" fill="#86a6df"/>
<polygon points="186.25,401.25 193.30,398.00 193.30,431.50 186.25,439.50" fill="#4a6cb0"/>
<polygon points="40.00,445.00 170.50,415.00 170.50,460.30" fill="#000" stroke="#a85a28" stroke-width="0.35" stroke-linejoin="round"/>
<polygon points="40.00,445.00 47.50,439.00 176.80,408.00 170.50,415.00" fill="#000" stroke="#a85a28" stroke-width="0.35" stroke-linejoin="round"/>
<polygon points="170.50,415.00 176.80,408.00 176.80,453.50 170.50,460.30" fill="#000" stroke="#a85a28" stroke-width="0.35" stroke-linejoin="round"/>
<text x="29.00" y="465.24" font-size="7.6" font-weight="normal" text-anchor="middle" fill="#111" textLength="16" lengthAdjust="spacingAndGlyphs" stroke="#222" stroke-width="0.15">MDS</text>
<text x="164.50" y="481.74" font-size="7.6" font-weight="normal" text-anchor="middle" fill="#111" textLength="21.5" lengthAdjust="spacingAndGlyphs" stroke="#222" stroke-width="0.15">CMML</text>
<rect x="205.10" y="407.90" width="3.4000000000000004" height="3.4000000000000004" fill="#000" stroke="#000" stroke-width="0.7"/>
<text x="210.50" y="411.75" font-size="6.8" font-weight="normal" text-anchor="start" fill="#111" textLength="34.5" lengthAdjust="spacingAndGlyphs" stroke="#222" stroke-width="0.18">SETBP1 &#160;FS</text>
<rect x="205.10" y="422.90" width="3.4000000000000004" height="3.4000000000000004" fill="#5b82c8" stroke="#4a6cb0" stroke-width="0.7"/>
<text x="210.50" y="426.75" font-size="6.8" font-weight="normal" text-anchor="start" fill="#111" textLength="37.5" lengthAdjust="spacingAndGlyphs" stroke="#222" stroke-width="0.18">JAK2 V617F</text>
<text x="270.10" y="360.25" font-size="11.8" font-weight="bold" text-anchor="start" fill="#000" textLength="6.8" lengthAdjust="spacingAndGlyphs" stroke="#000" stroke-width="0.3">F</text>
<text transform="translate(289.66,420.75) rotate(-90)" font-size="7.4" font-weight="bold" text-anchor="middle" fill="#111" stroke="#111" stroke-width="0.22" textLength="83.5" lengthAdjust="spacingAndGlyphs">Variant Allele Frequency %</text>
<text x="302.00" y="380.88" font-size="8.0" font-weight="normal" text-anchor="end" fill="#111" stroke="#222" stroke-width="0.15">80</text>
<text x="302.00" y="403.38" font-size="8.0" font-weight="normal" text-anchor="end" fill="#111" stroke="#222" stroke-width="0.15">60</text>
<text x="302.00" y="424.88" font-size="8.0" font-weight="normal" text-anchor="end" fill="#111" stroke="#222" stroke-width="0.15">40</text>
<text x="302.00" y="446.88" font-size="8.0" font-weight="normal" text-anchor="end" fill="#111" stroke="#222" stroke-width="0.15">20</text>
<text x="304.50" y="466.88" font-size="8.0" font-weight="normal" text-anchor="end" fill="#111" stroke="#222" stroke-width="0.15">0</text>
<polygon points="308.00,377.80 381.50,350.20 381.50,434.00 310.90,464.50" fill="url(#lwf)"/>
<line x1="308.00" y1="377.80" x2="382.50" y2="350.50" stroke="#a8a8a8" stroke-width="0.45"/>
<line x1="308.00" y1="399.48" x2="382.50" y2="366.88" stroke="#a8a8a8" stroke-width="0.45"/>
<line x1="308.00" y1="421.15" x2="382.50" y2="383.25" stroke="#a8a8a8" stroke-width="0.45"/>
<line x1="308.00" y1="442.82" x2="382.50" y2="399.62" stroke="#a8a8a8" stroke-width="0.45"/>
<line x1="308.00" y1="464.50" x2="382.50" y2="416.00" stroke="#a8a8a8" stroke-width="0.45"/>
<polygon points="381.50,350.20 456.40,354.50 456.40,421.00 381.50,416.00" fill="url(#bw3)" stroke="#c8c8c8" stroke-width="0.4" stroke-linejoin="round"/>
<polygon points="310.90,464.50 382.50,416.00 456.00,421.00 409.00,475.50" fill="url(#fl)"/>
<polygon points="310.90,464.50 409.00,475.50 407.50,477.30 310.90,466.30" fill="#adadad"/>
<polygon points="372.30,366.60 450.60,365.00 450.60,430.00 372.30,430.00" fill="#ffffff" stroke="#8c8c8c" stroke-width="0.5" stroke-linejoin="round"/>
<polygon points="372.30,366.60 375.50,364.60 454.30,363.00 450.60,365.00" fill="#b2b2b2" stroke="#8c8c8c" stroke-width="0.3" stroke-linejoin="round"/>
<polygon points="450.60,365.00 454.30,363.00 454.30,423.00 450.60,430.00" fill="#b6b6b6" stroke="#8c8c8c" stroke-width="0.3" stroke-linejoin="round"/>
<polygon points="357.30,413.00 438.00,438.30 438.00,440.50 357.30,432.50" fill="#f9d9ba"/>
<polygon points="357.30,413.00 364.50,407.00 442.30,434.80 438.00,438.30" fill="#c9a27c"/>
<polygon points="337.00,446.50 346.00,440.00 356.00,438.50 350.00,444.00" fill="#c3d2da"/>
<polygon points="339.40,445.00 344.00,441.50 432.70,418.30 428.60,424.30" fill="#50535a"/>
<polygon points="339.40,445.00 428.60,424.30 428.60,454.00" fill="#7e7e84"/>
<polygon points="428.60,424.30 432.70,418.30 432.70,447.80 428.60,454.00" fill="#5a5a62"/>
<polygon points="318.00,454.00 414.00,459.50 414.00,471.00 318.00,461.50" fill="#fbdab8"/>
<polygon points="318.00,454.00 325.50,448.00 419.00,454.00 414.00,459.50" fill="#c9aa84"/>
<polygon points="414.00,459.50 419.00,454.00 419.00,465.00 414.00,471.00" fill="#d6b890"/>
<text x="311.50" y="477.74" font-size="7.6" font-weight="normal" text-anchor="middle" fill="#111" textLength="15.5" lengthAdjust="spacingAndGlyphs" stroke="#222" stroke-width="0.15">MDS</text>
<text x="407.50" y="490.74" font-size="7.6" font-weight="normal" text-anchor="middle" fill="#111" textLength="20.5" lengthAdjust="spacingAndGlyphs" stroke="#222" stroke-width="0.15">CMML</text>
<rect x="461.60" y="372.90" width="3.4000000000000004" height="3.4000000000000004" fill="#e8ecc8" stroke="#9aa070" stroke-width="0.7"/>
<text x="467.00" y="376.75" font-size="6.8" font-weight="normal" text-anchor="start" fill="#111" textLength="40" lengthAdjust="spacingAndGlyphs" stroke="#222" stroke-width="0.18">ASXL1 A459G</text>
<rect x="461.60" y="386.40" width="3.4000000000000004" height="3.4000000000000004" fill="#70707a" stroke="#55555e" stroke-width="0.7"/>
<text x="467.00" y="390.25" font-size="6.8" font-weight="normal" text-anchor="start" fill="#111" textLength="44" lengthAdjust="spacingAndGlyphs" stroke="#222" stroke-width="0.18">RUNX1 DEL/FS</text>
<rect x="461.60" y="399.90" width="3.4000000000000004" height="3.4000000000000004" fill="#fbdab8" stroke="#c08058" stroke-width="0.7"/>
<text x="467.00" y="403.75" font-size="6.8" font-weight="normal" text-anchor="start" fill="#111" textLength="40.4" lengthAdjust="spacingAndGlyphs" stroke="#222" stroke-width="0.18">ASXL1 INS/FS</text>
<rect x="461.60" y="412.90" width="3.4000000000000004" height="3.4000000000000004" fill="#f4f6fb" stroke="#8890a8" stroke-width="0.7"/>
<text x="467.00" y="416.75" font-size="6.8" font-weight="normal" text-anchor="start" fill="#111" textLength="39.5" lengthAdjust="spacingAndGlyphs" stroke="#222" stroke-width="0.18">ZRSR2 Q154*</text>
<text x="2.10" y="529.25" font-size="11.8" font-weight="bold" text-anchor="start" fill="#000" textLength="8.4" lengthAdjust="spacingAndGlyphs" stroke="#000" stroke-width="0.3">G</text>
<text transform="translate(8.16,596.00) rotate(-90)" font-size="7.4" font-weight="bold" text-anchor="middle" fill="#111" stroke="#111" stroke-width="0.22" textLength="96.0" lengthAdjust="spacingAndGlyphs">Variant Allele Frequency %</text>
<text x="23.10" y="549.88" font-size="8.0" font-weight="normal" text-anchor="end" fill="#111" stroke="#222" stroke-width="0.15">60</text>
<text x="23.10" y="567.38" font-size="8.0" font-weight="normal" text-anchor="end" fill="#111" stroke="#222" stroke-width="0.15">50</text>
<text x="23.10" y="583.38" font-size="8.0" font-weight="normal" text-anchor="end" fill="#111" stroke="#222" stroke-width="0.15">40</text>
<text x="23.10" y="600.88" font-size="8.0" font-weight="normal" text-anchor="end" fill="#111" stroke="#222" stroke-width="0.15">30</text>
<text x="23.10" y="616.88" font-size="8.0" font-weight="normal" text-anchor="end" fill="#111" stroke="#222" stroke-width="0.15">20</text>
<text x="23.10" y="633.38" font-size="8.0" font-weight="normal" text-anchor="end" fill="#111" stroke="#222" stroke-width="0.15">10</text>
<text x="25.00" y="648.88" font-size="8.0" font-weight="normal" text-anchor="end" fill="#111" stroke="#222" stroke-width="0.15">0</text>
<polygon points="29.50,546.00 113.00,515.30 113.00,600.00 32.50,645.50" fill="url(#lwf)"/>
<line x1="29.50" y1="546.00" x2="113.00" y2="515.30" stroke="#b0b0b0" stroke-width="0.45"/>
<line x1="29.50" y1="562.58" x2="113.00" y2="526.92" stroke="#b0b0b0" stroke-width="0.45"/>
<line x1="29.50" y1="579.17" x2="113.00" y2="538.53" stroke="#b0b0b0" stroke-width="0.45"/>
<line x1="29.50" y1="595.75" x2="113.00" y2="550.15" stroke="#b0b0b0" stroke-width="0.45"/>
<line x1="29.50" y1="612.33" x2="113.00" y2="561.77" stroke="#b0b0b0" stroke-width="0.45"/>
<line x1="29.50" y1="628.92" x2="113.00" y2="573.38" stroke="#b0b0b0" stroke-width="0.45"/>
<line x1="29.50" y1="645.50" x2="113.00" y2="585.00" stroke="#b0b0b0" stroke-width="0.45"/>
<polygon points="113.00,515.30 201.30,519.00 201.30,594.00 113.00,585.00" fill="url(#bw3)" stroke="#c8c8c8" stroke-width="0.4" stroke-linejoin="round"/>
<polygon points="32.50,645.50 113.00,585.00 201.30,594.00 148.00,658.50" fill="url(#fl)"/>
<polygon points="32.50,645.50 148.00,658.50 146.00,662.00 32.50,649.00" fill="#9c9c9c"/>
<polygon points="103.90,534.00 186.00,539.50 185.60,606.60 103.90,590.00" fill="#000"/>
<polygon points="103.90,534.00 108.00,531.50 197.30,537.70 186.00,539.50" fill="#161616"/>
<polygon points="186.00,539.50 197.30,537.70 197.30,600.00 185.60,606.60" fill="#050505"/>
<polygon points="85.60,593.00 182.20,542.00 181.60,617.00 85.60,608.30" fill="#cc9a98"/>
<polygon points="85.60,593.00 89.50,590.30 187.00,538.60 182.20,542.00" fill="#b28280"/>
<polygon points="182.20,542.00 187.00,538.60 186.60,610.00 181.60,617.00" fill="#ae8672"/>
<polygon points="65.50,618.50 167.80,587.50 167.00,635.00 65.50,623.30" fill="#ffffff" stroke="#7c8ea4" stroke-width="0.9" stroke-linejoin="round"/>
<polygon points="65.50,618.50 69.50,615.50 172.90,583.50 167.80,587.50" fill="#a2b2c2"/>
<line x1="65.50" y1="618.00" x2="167.80" y2="587.00" stroke="#8f9dab" stroke-width="1.8"/>
<polygon points="167.80,587.50 172.90,583.50 172.90,628.40 167.00,635.00" fill="#a8b6c4"/>
<polygon points="41.00,629.50 151.50,638.20 151.50,653.70 41.00,641.00" fill="#f9e2e2"/>
<polygon points="41.00,629.50 50.50,624.00 157.60,631.80 151.50,638.20" fill="#b2a2a4"/>
<polygon points="151.50,638.20 157.60,631.80 157.60,647.70 151.50,653.70" fill="#a99a9c"/>
<text x="33.00" y="661.74" font-size="7.6" font-weight="normal" text-anchor="middle" fill="#111" textLength="16" lengthAdjust="spacingAndGlyphs" stroke="#222" stroke-width="0.15">MDS</text>
<text x="145.00" y="675.74" font-size="7.6" font-weight="normal" text-anchor="middle" fill="#111" textLength="20.5" lengthAdjust="spacingAndGlyphs" stroke="#222" stroke-width="0.15">CMML</text>
<rect x="209.90" y="532.40" width="3.4000000000000004" height="3.4000000000000004" fill="#fbeaea" stroke="#8c7880" stroke-width="0.7"/>
<text x="215.90" y="536.25" font-size="6.8" font-weight="normal" text-anchor="start" fill="#111" textLength="45.3" lengthAdjust="spacingAndGlyphs" stroke="#222" stroke-width="0.18">ASXL1 A459G</text>
<rect x="209.90" y="548.10" width="3.4000000000000004" height="3.4000000000000004" fill="#ffffff" stroke="#7c8ea4" stroke-width="0.7"/>
<text x="215.90" y="551.95" font-size="6.8" font-weight="normal" text-anchor="start" fill="#111" textLength="47.1" lengthAdjust="spacingAndGlyphs" stroke="#222" stroke-width="0.18">SF3B1 H662Q</text>
<rect x="209.90" y="563.90" width="3.4000000000000004" height="3.4000000000000004" fill="#c49a94" stroke="#a88a80" stroke-width="0.7"/>
<text x="215.90" y="567.75" font-size="6.8" font-weight="normal" text-anchor="start" fill="#111" textLength="44" lengthAdjust="spacingAndGlyphs" stroke="#222" stroke-width="0.18">TET2 L1872R</text>
<rect x="209.90" y="579.20" width="3.4000000000000004" height="3.4000000000000004" fill="#000" stroke="#000" stroke-width="0.7"/>
<text x="215.90" y="583.05" font-size="6.8" font-weight="normal" text-anchor="start" fill="#111" textLength="49.8" lengthAdjust="spacingAndGlyphs" stroke="#222" stroke-width="0.18">SETBP1 INS/FS</text>
</g>
</svg>
</body></html>
